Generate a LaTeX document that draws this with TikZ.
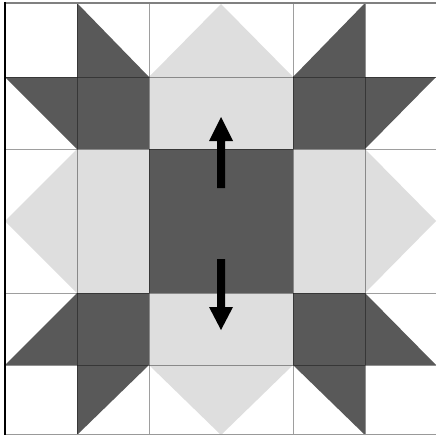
\documentclass[tikz,border=0pt]{standalone}
\definecolor{qdark}{HTML}{595959}
\definecolor{qlight}{HTML}{DEDEDE}
\begin{document}
\begin{tikzpicture}[x=1pt,y=-1pt,
  dark/.style={fill=qdark},
  light/.style={fill=qlight},
  seam/.style={draw=black,draw opacity=0.38,line width=1pt},
  arrowshape/.style={fill=black}]
\useasboundingbox (0,0) rectangle (436,436);
\fill[white] (0,0) rectangle (436,436);
% light gray units
\fill[light] (77,149) rectangle (149,293);
\fill[light] (293,149) rectangle (365,293);
\fill[light] (149,77) rectangle (293,149);
\fill[light] (149,293) rectangle (293,365);
\fill[light] (149,77) -- (221,4) -- (293,77) -- cycle;
\fill[light] (149,365) -- (221,435) -- (293,365) -- cycle;
\fill[light] (77,149) -- (5,221) -- (77,293) -- cycle;
\fill[light] (365,149) -- (436,221) -- (365,293) -- cycle;
% dark squares
\fill[dark] (149,149) rectangle (293,293);
\fill[dark] (77,77) rectangle (149,149);
\fill[dark] (293,77) rectangle (365,149);
\fill[dark] (77,293) rectangle (149,365);
\fill[dark] (293,293) rectangle (365,365);
% dark triangles
\fill[dark] (77,3) -- (77,77) -- (149,77) -- cycle;
\fill[dark] (5,77) -- (77,77) -- (77,149) -- cycle;
\fill[dark] (365,3) -- (365,77) -- (293,77) -- cycle;
\fill[dark] (436,77) -- (365,77) -- (365,149) -- cycle;
\fill[dark] (5,365) -- (77,365) -- (77,293) -- cycle;
\fill[dark] (77,365) -- (149,365) -- (77,435) -- cycle;
\fill[dark] (365,293) -- (365,365) -- (436,365) -- cycle;
\fill[dark] (293,365) -- (365,365) -- (365,435) -- cycle;
% seams
\foreach \p in {77,149,293,365}{
  \draw[seam] (5,\p) -- (436,\p);
  \draw[seam] (\p,3) -- (\p,435);
}
% borders
\draw[draw=black!50,line width=1.6pt] (5,2.8) -- (436,2.8);
\draw[draw=black!40,line width=1.6pt] (5,434.6) -- (436,434.6);
\draw[draw=black,line width=1.5pt] (5,2) -- (5,435.4);
% arrows
\coordinate (upbase) at (221,188);
\coordinate (uptip) at (221,117);
\coordinate (dnbase) at (221,259);
\coordinate (dntip) at (221,330);
\fill[arrowshape] (217,188) -- (217,141) -- (209,141) -- (uptip) -- (233,141) -- (225,141) -- (225,188) -- cycle;
\fill[arrowshape] (217,259) -- (217,307) -- (209,307) -- (dntip) -- (233,307) -- (225,307) -- (225,259) -- cycle;
\end{tikzpicture}
\end{document}
